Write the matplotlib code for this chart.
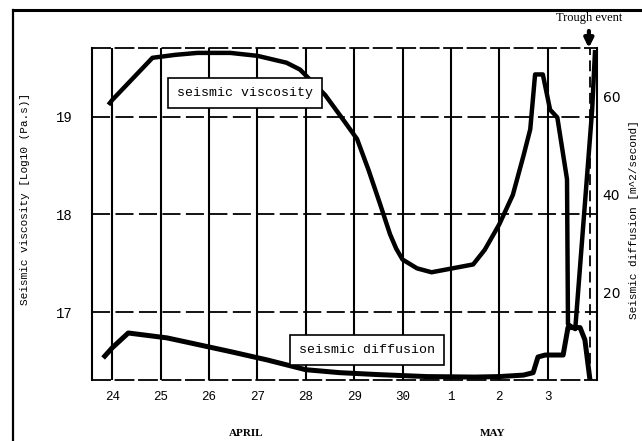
import matplotlib
matplotlib.use('Agg')
import matplotlib.pyplot as plt
from matplotlib.lines import Line2D

# days counted from 24 April (7 = 1 May)
day_ticks = [0, 1, 2, 3, 4, 5, 6, 7, 8, 9]
day_labels = ['24', '25', '26', '27', '28', '29', '30', '1', '2', '3']

# seismic viscosity, log10(Pa.s)
visc_days = [-0.08, 0.0, 0.83, 1.3, 1.76, 2.44, 3.0, 3.6, 3.88, 4.4, 4.77, 5.06, 5.3,
             5.54, 5.74, 5.87, 6.0, 6.3, 6.6, 7.46, 7.7, 8.0, 8.28, 8.5, 8.64, 8.74,
             8.9, 9.05, 9.2, 9.4, 9.42, 9.57, 9.92, 9.98]
visc_vals = [19.12, 19.17, 19.6, 19.63, 19.65, 19.65, 19.62, 19.55, 19.48, 19.22, 18.97,
             18.77, 18.45, 18.1, 17.8, 17.65, 17.54, 17.45, 17.41, 17.49, 17.64, 17.9,
             18.2, 18.6, 18.87, 19.43, 19.43, 19.07, 18.99, 18.36, 16.88, 16.83, 19.07,
             19.68]

# seismic diffusion, m^2/second
diff_days = [-0.19, 0.0, 0.33, 1.13, 1.6, 2.44, 3.2, 4.0, 4.7, 5.5, 6.5, 7.5,
             8.0, 8.5, 8.7, 8.8, 8.95, 9.32, 9.42, 9.67, 9.77, 9.88]
diff_vals = [6.7, 8.8, 11.8, 10.8, 9.8, 8.0, 6.3, 4.3, 3.7, 3.3, 2.9, 2.8,
             2.9, 3.2, 3.7, 6.9, 7.3, 7.3, 12.9, 12.9, 10.4, 1.8]

trough_day = 9.88

mono = 'Liberation Mono'

fig = plt.figure(figsize=(6.42, 4.41), dpi=100)
ax = fig.add_axes([92/642, 1-380/441, 505/642, 332/441])
ax2 = ax.twinx()

dash = (0, (10, 3))

ax.plot(visc_days, visc_vals, color='k', lw=3.2, solid_capstyle='butt',
        solid_joinstyle='round', zorder=3)
ax2.plot(diff_days, diff_vals, color='k', lw=3.6, solid_capstyle='butt',
         solid_joinstyle='round', zorder=3)
ax.axvline(trough_day, color='k', lw=1.3, ls=(0, (6, 3)), zorder=2)

ax.set_xlim(-0.42, 10.02)
ax.set_ylim(16.31, 19.7)
ax2.set_ylim(2.2, 70)

ax.set_xticks(day_ticks)
ax.set_xticklabels(day_labels, family=mono, fontsize=9)
ax.set_yticks([17, 18, 19])
ax.set_yticklabels(['17', '18', '19'], family=mono, fontsize=10)
ax2.set_yticks([20, 40, 60])
ax2.set_yticklabels(['20', '40', '60'], family='DejaVu Sans', fontsize=10)
ax.tick_params(axis='x', length=0, pad=8)
ax.tick_params(axis='y', length=0, pad=14)
ax2.tick_params(axis='y', length=0, pad=4)

ax.grid(axis='x', color='k', lw=1.5, ls='-', zorder=1)
ax.grid(axis='y', color='k', lw=1.3, ls=dash, zorder=1)
ax.set_axisbelow(True)

for s in ['top', 'bottom']:
    ax.spines[s].set_linestyle(dash)
    ax.spines[s].set_linewidth(1.3)
    ax2.spines[s].set_visible(False)
ax.spines['left'].set_linewidth(1.5)
ax.spines['right'].set_visible(False)
ax2.spines['left'].set_visible(False)
ax2.spines['right'].set_linewidth(1.5)

box = dict(boxstyle='square,pad=0.7', fc='white', ec='k', lw=1.2)
ax2.text(0.303, 0.864, 'seismic viscosity', transform=ax2.transAxes, ha='center', va='center',
         family=mono, fontsize=9.5, bbox=box, zorder=5)
ax2.text(0.545, 0.090, 'seismic diffusion', transform=ax2.transAxes, ha='center', va='center',
         family=mono, fontsize=9.5, bbox=box, zorder=5)

ax2.annotate('Trough event', xy=(trough_day - 0.03, 70), xycoords='data',
             xytext=(589/642, 1-18/441), textcoords='figure fraction',
             ha='center', va='center', family='Liberation Serif', fontsize=9,
             arrowprops=dict(arrowstyle='-|>', color='k', lw=3, mutation_scale=13,
                             shrinkA=3, shrinkB=0), annotation_clip=False)

fig.text(25/642, 1-199/441, 'Seismic viscosity [Log10 (Pa.s)]', rotation=90,
         ha='center', va='center', family=mono, fontsize=8)
fig.text(634/642, 1-220/441, 'Seismic diffusion [m^2/second]', rotation=90,
         ha='center', va='center', family=mono, fontsize=8)
fig.text(246/642, 1-433/441, 'APRIL', ha='center', va='center', family='Liberation Serif',
         fontsize=8, weight='bold')
fig.text(493/642, 1-433/441, 'MAY', ha='center', va='center', family='Liberation Serif',
         fontsize=8, weight='bold')

# scanned page frame
fig.add_artist(Line2D([13/642, 13/642], [0, 1-10/441], transform=fig.transFigure, color='k', lw=1.6))
fig.add_artist(Line2D([13/642, 1], [1-10/441, 1-10/441], transform=fig.transFigure, color='k', lw=2.2))

fig.savefig('out.png', dpi=100)
